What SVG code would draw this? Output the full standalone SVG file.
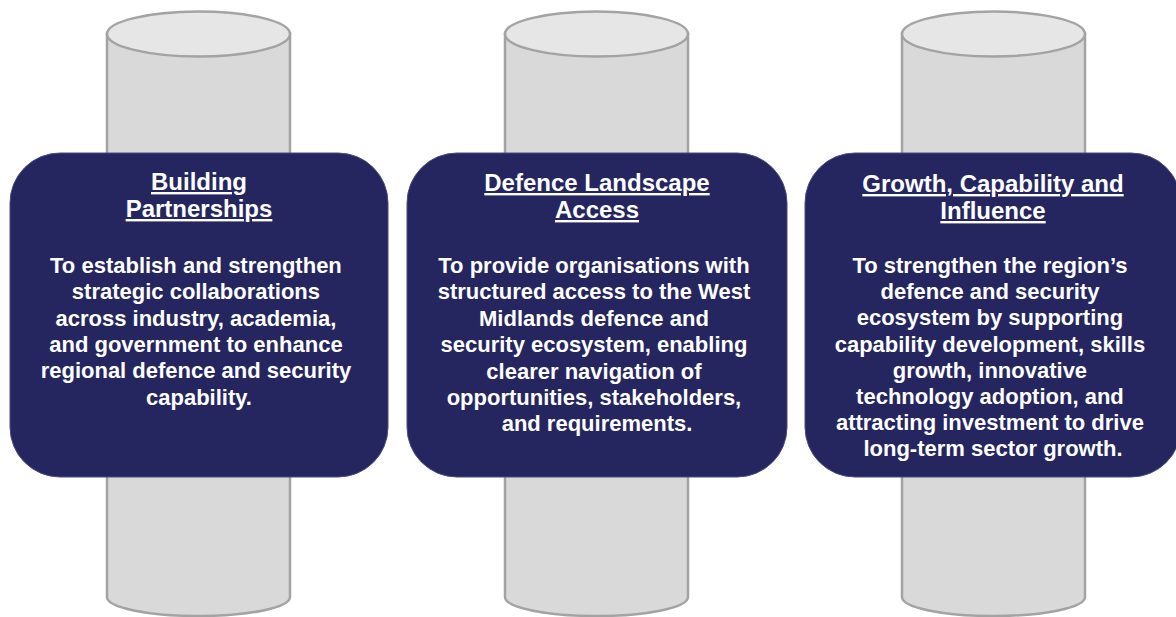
<svg xmlns="http://www.w3.org/2000/svg" width="1176" height="617" viewBox="0 0 1176 617">
  <style>
    .pillar { fill: #d9d9d9; stroke: #a3a3a3; stroke-width: 2.5; }
    .cap { fill: #e6e6e6; stroke: #a3a3a3; stroke-width: 2.5; }
    .card { fill: #25265f; stroke: #4a4b80; stroke-width: 1; }
    .title { font-family: "Liberation Sans", Arial, sans-serif; font-weight: bold; font-size: 24px; fill: #ffffff; text-anchor: middle; text-decoration: underline; }
    .body { font-family: "Liberation Sans", Arial, sans-serif; font-weight: bold; font-size: 22px; fill: #ffffff; text-anchor: middle; }
  </style>
  <defs>
    <!-- one pillar: cylinder centred on x=0 -->
    <g id="pillar-shape">
      <path class="pillar" d="M -91.5 34 L -91.5 597 A 91.5 19 0 0 0 91.5 597 L 91.5 34 Z"/>
      <ellipse class="cap" cx="0" cy="34" rx="91.5" ry="22.5"/>
    </g>
  </defs>

  <rect width="1176" height="617" fill="#ffffff"/>

  <g id="pillar-1-building-partnerships">
    <use href="#pillar-shape" x="198.5" y="0"/>
    <rect class="card" x="10" y="153" width="378" height="324" rx="50" ry="50"/>
    <text class="title" x="199" y="190">Building</text>
    <text class="title" x="199" y="217">Partnerships</text>
    <text class="body" x="199" y="273">
      <tspan x="199" dy="0">To establish and strengthen</tspan>
      <tspan x="199" dy="26.3">strategic collaborations</tspan>
      <tspan x="199" dy="26.3">across industry, academia,</tspan>
      <tspan x="199" dy="26.3">and government to enhance</tspan>
      <tspan x="199" dy="26.3">regional defence and security</tspan>
      <tspan x="199" dy="26.3">capability.</tspan>
    </text>
  </g>

  <g id="pillar-2-defence-landscape-access">
    <use href="#pillar-shape" x="596.5" y="0"/>
    <rect class="card" x="407" y="153" width="380" height="324" rx="50" ry="50"/>
    <text class="title" x="597" y="191">Defence Landscape</text>
    <text class="title" x="597" y="218">Access</text>
    <text class="body" x="597" y="273">
      <tspan x="597" dy="0">To provide organisations with</tspan>
      <tspan x="597" dy="26.4">structured access to the West</tspan>
      <tspan x="597" dy="26.4">Midlands defence and</tspan>
      <tspan x="597" dy="26.4">security ecosystem, enabling</tspan>
      <tspan x="597" dy="26.4">clearer navigation of</tspan>
      <tspan x="597" dy="26.4">opportunities, stakeholders,</tspan>
      <tspan x="597" dy="26.4">and requirements.</tspan>
    </text>
  </g>

  <g id="pillar-3-growth-capability-influence">
    <use href="#pillar-shape" x="993.5" y="0"/>
    <rect class="card" x="805" y="153" width="376" height="324" rx="50" ry="50"/>
    <text class="title" x="993" y="192">Growth, Capability and</text>
    <text class="title" x="993" y="219">Influence</text>
    <text class="body" x="993" y="273">
      <tspan x="993" dy="0">To strengthen the region’s</tspan>
      <tspan x="993" dy="26.2">defence and security</tspan>
      <tspan x="993" dy="26.2">ecosystem by supporting</tspan>
      <tspan x="993" dy="26.2">capability development, skills</tspan>
      <tspan x="993" dy="26.2">growth, innovative</tspan>
      <tspan x="993" dy="26.2">technology adoption, and</tspan>
      <tspan x="993" dy="26.2">attracting investment to drive</tspan>
      <tspan x="993" dy="26.2">long-term sector growth.</tspan>
    </text>
  </g>

  <g id="connectors"/>
</svg>
